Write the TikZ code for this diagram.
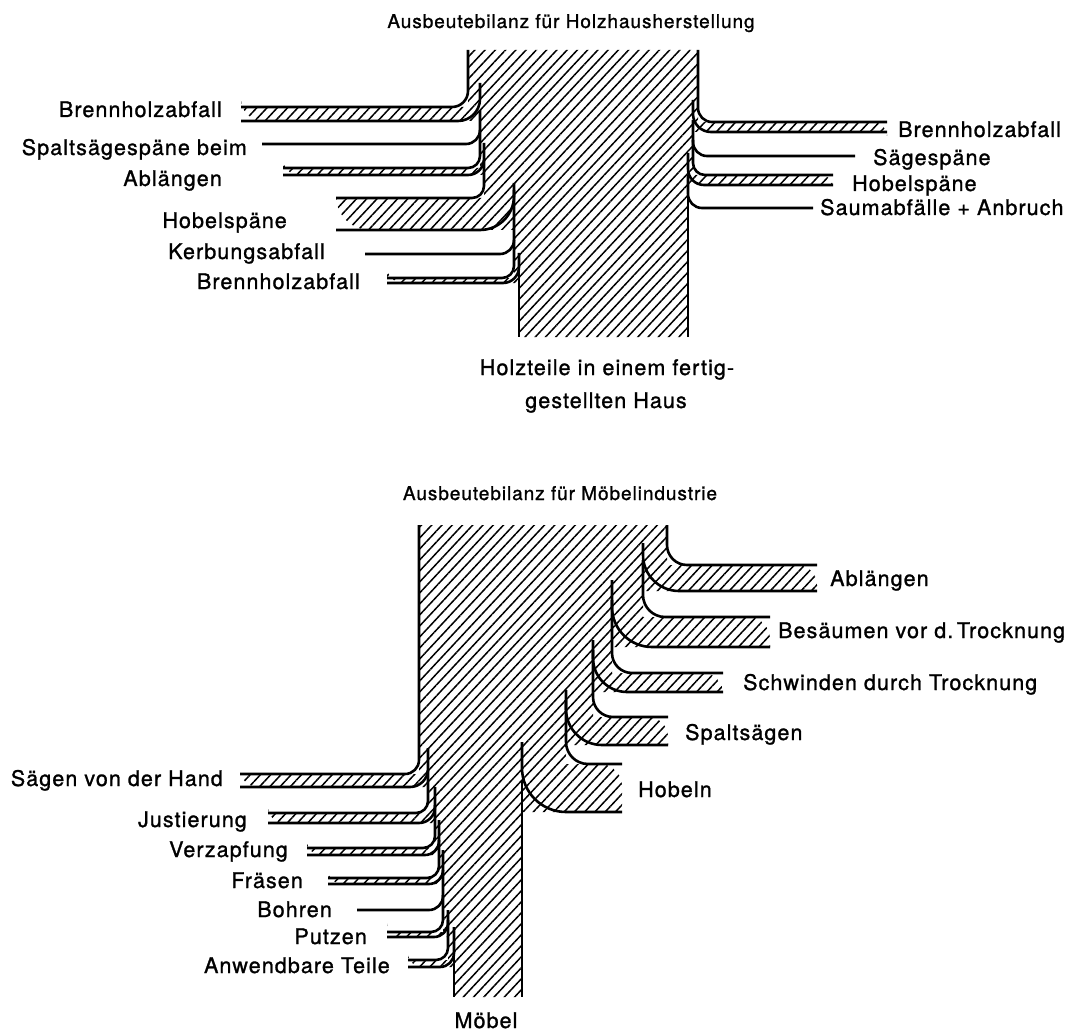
\documentclass[tikz,border=0pt]{standalone}
\usepackage{fontspec}
\setmainfont[LetterSpace=5,FakeBold=1.2]{TeX Gyre Heros}
\usetikzlibrary{patterns.meta}
\begin{document}
\begin{tikzpicture}[x=1pt,y=-1pt,
  hatch/.style={pattern={Lines[angle=47,distance=7.5pt,line width=1.5pt]}},
  edge/.style={line width=2.6pt},
  lbl/.style={font=\fontsize{21.5}{26}\selectfont, inner sep=0pt},
  ttl/.style={font=\fontsize{19}{24}\selectfont, inner sep=0pt}]
\useasboundingbox (0,0) rectangle (1086,1032);
% ---------- Holzhausherstellung ----------
\node[ttl, anchor=base] (titleA) at (571,28) {Ausbeutebilanz für Holzhausherstellung};
% hatched body
\fill[hatch] (468,50) -- (698,50) -- (698,122)
  [rounded corners=14pt] -- (887,122) [sharp corners] -- (887,132) -- (693,132)
  [rounded corners=18pt] -- (693,114) [sharp corners] -- (693,175)
  [rounded corners=12pt] -- (833,175) [sharp corners] -- (833,185) -- (688,185)
  [rounded corners=16pt] -- (688,169) [sharp corners] -- (688,337) -- (519,337) -- (519,267) -- (519,283)
  [rounded corners=16pt] -- (387,283) [sharp corners] -- (387,278) -- (514,278)
  [rounded corners=12pt] -- (514,196) [sharp corners] -- (514,230)
  [rounded corners=34pt] -- (336,230) [sharp corners] -- (336,198) -- (484,198)
  [rounded corners=12pt] -- (484,159) [sharp corners] -- (484,175)
  [rounded corners=16pt] -- (283,175) [sharp corners] -- (283,168) -- (480,168)
  [rounded corners=12pt] -- (480,99) [sharp corners] -- (480,121)
  [rounded corners=22pt] -- (241,121) [sharp corners] -- (241,107) -- (468,107)
  [rounded corners=16pt] -- (468,50);
% left branches
\draw[edge, rounded corners=16pt] (468,50) -- (468,107) -- (241,107);
\draw[edge, rounded corners=22pt] (480,83) -- (480,121) -- (241,121);
\draw[edge, rounded corners=14pt] (480,110) -- (480,144) -- (262,144);
\draw[edge, rounded corners=12pt] (480,130) -- (480,168) -- (283,168);
\draw[edge, rounded corners=16pt] (484,143) -- (484,175) -- (283,175);
\draw[edge, rounded corners=12pt] (484,160) -- (484,198) -- (336,198);
\draw[edge, rounded corners=34pt] (514,183) -- (514,230) -- (336,230);
\draw[edge, rounded corners=14pt] (514,190) -- (514,254) -- (365,254);
\draw[edge, rounded corners=12pt] (514,240) -- (514,278) -- (387,278);
\draw[edge, rounded corners=16pt] (519,253) -- (519,283) -- (387,283);
\draw[edge] (519,260) -- (519,337);
% right branches
\draw[edge, rounded corners=14pt] (698,50) -- (698,122) -- (887,122);
\draw[edge, rounded corners=18pt] (693,100) -- (693,132) -- (887,132);
\draw[edge, rounded corners=14pt] (693,120) -- (693,156) -- (855,156);
\draw[edge, rounded corners=12pt] (693,140) -- (693,175) -- (833,175);
\draw[edge, rounded corners=16pt] (688,153) -- (688,185) -- (833,185);
\draw[edge, rounded corners=14pt] (688,175) -- (688,208) -- (813,208);
\draw[edge] (688,190) -- (688,337);
% labels
\node[lbl, anchor=base east] (hBrennA) at (222,117) {Brennholzabfall};
\node[lbl, anchor=base east] (hSpalt) at (247,155) {Spaltsägespäne beim};
\node[lbl, anchor=base east] (hAbl) at (222,186) {Ablängen};
\node[lbl, anchor=base east] (hHobelL) at (287,228) {Hobelspäne};
\node[lbl, anchor=base east] (hKerb) at (325,259) {Kerbungsabfall};
\node[lbl, anchor=base east] (hBrennB) at (360,289) {Brennholzabfall};
\node[lbl, anchor=base west] (hBrennR) at (898,137) {Brennholzabfall};
\node[lbl, anchor=base west] (hSaege) at (873,165) {Sägespäne};
\node[lbl, anchor=base west] (hHobelR) at (852,191) {Hobelspäne};
\node[lbl, anchor=base west] (hSaum) at (820,215) {Saumabfälle + Anbruch};
\node[lbl, anchor=base] (hHaus) at (607,375) {Holzteile in einem fertig-};
\node[lbl, anchor=base] (hHaus2) at (606,408) {gestellten Haus};
% ---------- Moebelindustrie ----------
\node[ttl, anchor=base] (titleB) at (560,500) {Ausbeutebilanz für Möbelindustrie};
% hatched body
\fill[hatch] (419,525) -- (667,525) -- (667,565)
  [rounded corners=20pt] -- (817,565) [sharp corners] -- (817,591) -- (643,591)
  [rounded corners=36pt] -- (643,555) [sharp corners] -- (643,617)
  [rounded corners=22pt] -- (770,617) [sharp corners] -- (770,647) -- (612,647)
  [rounded corners=40pt] -- (612,607) [sharp corners] -- (612,673)
  [rounded corners=20pt] -- (723,673) [sharp corners] -- (723,692) -- (593,692)
  [rounded corners=34pt] -- (593,658) [sharp corners] -- (593,717)
  [rounded corners=20pt] -- (668,717) [sharp corners] -- (668,745) -- (566,745)
  [rounded corners=36pt] -- (566,709) [sharp corners] -- (566,764)
  [rounded corners=22pt] -- (622,764) [sharp corners] -- (622,812) -- (522,812)
  [rounded corners=44pt] -- (522,768) [sharp corners] -- (522,997) -- (454,997) -- (454,953) -- (454,967)
  [rounded corners=14pt] -- (408,967) [sharp corners] -- (408,960) -- (448,960)
  [rounded corners=12pt] -- (448,923) [sharp corners] -- (448,937)
  [rounded corners=14pt] -- (387,937) [sharp corners] -- (387,932) -- (443,932)
  [rounded corners=12pt] -- (443,870) [sharp corners] -- (443,884)
  [rounded corners=14pt] -- (328,884) [sharp corners] -- (328,878) -- (439,878)
  [rounded corners=12pt] -- (439,841) [sharp corners] -- (439,855)
  [rounded corners=14pt] -- (307,855) [sharp corners] -- (307,848) -- (435,848)
  [rounded corners=12pt] -- (435,807) [sharp corners] -- (435,823)
  [rounded corners=16pt] -- (268,823) [sharp corners] -- (268,813) -- (428,813)
  [rounded corners=12pt] -- (428,769) [sharp corners] -- (428,787)
  [rounded corners=18pt] -- (240,787) [sharp corners] -- (240,774) -- (419,774)
  [rounded corners=14pt] -- (419,525);
% right branches
\draw[edge, rounded corners=20pt] (667,525) -- (667,565) -- (817,565);
\draw[edge, rounded corners=36pt] (643,543) -- (643,591) -- (817,591);
\draw[edge, rounded corners=22pt] (643,560) -- (643,617) -- (770,617);
\draw[edge, rounded corners=40pt] (612,580) -- (612,647) -- (770,647);
\draw[edge, rounded corners=20pt] (612,600) -- (612,673) -- (723,673);
\draw[edge, rounded corners=34pt] (593,640) -- (593,692) -- (723,692);
\draw[edge, rounded corners=20pt] (593,650) -- (593,717) -- (668,717);
\draw[edge, rounded corners=36pt] (566,690) -- (566,745) -- (668,745);
\draw[edge, rounded corners=22pt] (566,700) -- (566,764) -- (622,764);
\draw[edge, rounded corners=44pt] (522,742) -- (522,812) -- (622,812);
\draw[edge] (522,780) -- (522,997);
% left branches
\draw[edge, rounded corners=14pt] (419,525) -- (419,774) -- (240,774);
\draw[edge, rounded corners=18pt] (428,748) -- (428,787) -- (240,787);
\draw[edge, rounded corners=12pt] (428,770) -- (428,813) -- (268,813);
\draw[edge, rounded corners=16pt] (435,787) -- (435,823) -- (268,823);
\draw[edge, rounded corners=12pt] (435,805) -- (435,848) -- (307,848);
\draw[edge, rounded corners=14pt] (439,820) -- (439,855) -- (307,855);
\draw[edge, rounded corners=12pt] (439,840) -- (439,878) -- (328,878);
\draw[edge, rounded corners=14pt] (443,850) -- (443,884) -- (328,884);
\draw[edge, rounded corners=14pt] (443,870) -- (443,910) -- (357,910);
\draw[edge, rounded corners=12pt] (443,895) -- (443,932) -- (387,932);
\draw[edge, rounded corners=14pt] (448,910) -- (448,937) -- (387,937);
\draw[edge, rounded corners=12pt] (448,920) -- (448,960) -- (408,960);
\draw[edge, rounded corners=14pt] (454,927) -- (454,967) -- (408,967);
\draw[edge] (454,950) -- (454,997);
% labels
\node[lbl, anchor=base west] (mAbl) at (830,586) {Ablängen};
\node[lbl, anchor=base west] (mBes) at (778,638) {Besäumen vor d.\,Trocknung};
\node[lbl, anchor=base west] (mSchw) at (743,690) {Schwinden durch Trocknung};
\node[lbl, anchor=base west] (mSpalt) at (685,740) {Spaltsägen};
\node[lbl, anchor=base west] (mHob) at (638,797) {Hobeln};
\node[lbl, anchor=base east] (mHand) at (223,786) {Sägen von der Hand};
\node[lbl, anchor=base east] (mJust) at (247,827) {Justierung};
\node[lbl, anchor=base east] (mVerz) at (288,857) {Verzapfung};
\node[lbl, anchor=base east] (mFraes) at (303,888) {Fräsen};
\node[lbl, anchor=base east] (mBohr) at (332,917) {Bohren};
\node[lbl, anchor=base east] (mPutz) at (367,944) {Putzen};
\node[lbl, anchor=base east] (mTeile) at (390,973) {Anwendbare Teile};
\node[lbl, anchor=base] (mMoebel) at (486,1028) {Möbel};
\end{tikzpicture}
\end{document}
